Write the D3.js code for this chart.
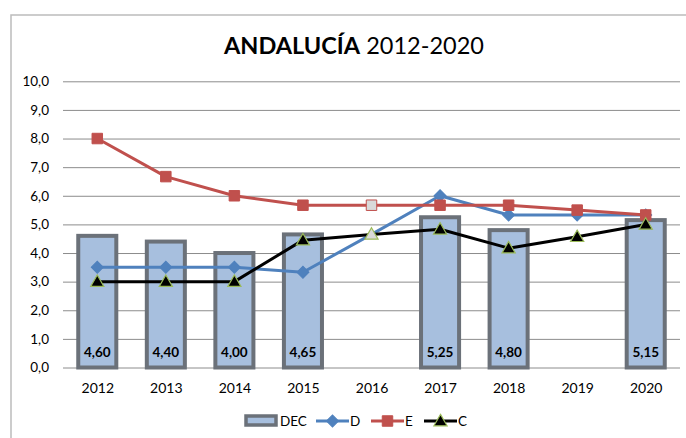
<!DOCTYPE html>
<html>
<head>
<meta charset="utf-8">
<script src="https://cdn.jsdelivr.net/npm/d3@7"></script>
<style>
  body { margin: 0; background: #fff; }
  text { font-family: Lato, "Open Sans", sans-serif; fill: #000; }
</style>
</head>
<body>
<div id="chart"></div>
<script>
const width = 686;
const height = 438;

const years = ['2012', '2013', '2014', '2015', '2016', '2017', '2018', '2019', '2020'];
const dec = [4.60, 4.40, 4.00, 4.65, null, 5.25, 4.80, null, 5.15];
const serD = [3.5, 3.5, 3.5, 3.33, 4.65, 6.0, 5.33, 5.33, 5.33];
const serE = [8.0, 6.67, 6.0, 5.67, 5.67, 5.67, 5.67, 5.5, 5.33];
const serC = [3.0, 3.0, 3.0, 4.45, 4.65, 4.83, 4.17, 4.57, 5.0];
const yTicks = [0, 1, 2, 3, 4, 5, 6, 7, 8, 9, 10];
const greyYears = ['2016'];

const svg = d3.select('#chart')
    .append('svg')
    .attr('width', width)
    .attr('height', height);

// outer frame (only left/top visible in the crop)
svg.append('rect')
    .attr('x', 11).attr('y', 15)
    .attr('width', 720).attr('height', 460)
    .attr('fill', 'none')
    .attr('stroke', '#bcbcbc')
    .attr('stroke-width', 1.5);

const x = d3.scalePoint().domain(years).range([63, 680]).padding(0.5);
const y = d3.scaleLinear().domain([0, 10]).range([367.5, 81.3]);
const step = x.step();
const barW = step * 0.555;

// title
const title = svg.append('text')
    .attr('x', 354).attr('y', 54)
    .attr('text-anchor', 'middle')
    .style('font-size', '23.5px');
title.append('tspan').style('font-weight', 'bold').text('ANDALUCÍA');
title.append('tspan').text(' 2012-2020');

// grid + y axis
const yAxis = d3.axisLeft(y)
    .tickValues(yTicks)
    .tickSize(-(680 - 63))
    .tickPadding(14)
    .tickFormat(d => d3.format('.1f')(d).replace('.', ','));

svg.append('g')
    .attr('transform', 'translate(63,0)')
    .call(yAxis)
    .call(g => g.select('.domain').remove())
    .call(g => g.selectAll('line').attr('stroke', '#8c8c8c').attr('stroke-width', 1))
    .call(g => g.selectAll('text').style('font-size', '13.5px').style('font-family', 'Lato'));

// x axis labels
const xAxis = d3.axisBottom(x).tickSize(0).tickPadding(16);
svg.append('g')
    .attr('transform', 'translate(0,' + y(0) + ')')
    .call(xAxis)
    .call(g => g.select('.domain').remove())
    .call(g => g.selectAll('text').style('font-size', '14px').style('font-family', 'Lato'));

// bars
const barData = years.map((yr, i) => ({ year: yr, v: dec[i] })).filter(d => d.v != null);

svg.append('g')
    .selectAll('rect')
    .data(barData)
    .enter()
    .append('rect')
    .attr('x', d => x(d.year) - barW / 2)
    .attr('y', d => y(d.v))
    .attr('width', barW)
    .attr('height', d => y(0) - y(d.v))
    .attr('fill', '#a7bfde')
    .attr('stroke', '#6b7179')
    .attr('stroke-width', 4);

svg.append('g')
    .selectAll('text')
    .data(barData)
    .enter()
    .append('text')
    .attr('x', d => x(d.year))
    .attr('y', 357)
    .attr('text-anchor', 'middle')
    .style('font-size', '13.5px')
    .style('font-weight', 'bold')
    .text(d => d3.format('.2f')(d.v).replace('.', ','));

// line series
const series = [
    { name: 'D', values: serD, color: '#4f81bd', shape: d3.symbolSquare, rot: 45, size: 72 },
    { name: 'E', values: serE, color: '#c0504d', shape: d3.symbolSquare, rot: 0, size: 110 },
    { name: 'C', values: serC, color: '#000000', shape: d3.symbolTriangle, rot: 0, size: 75 }
];

const line = d3.line()
    .x(d => x(d.year))
    .y(d => y(d.v));

function markerAttrs(sel, s, grey) {
    if (s.name === 'C') {
        sel.attr('fill', grey ? '#d9d9d9' : '#000')
            .attr('stroke', '#9bbb59').attr('stroke-width', 1.2);
    } else if (s.name === 'E') {
        sel.attr('fill', grey ? '#d9d9d9' : s.color)
            .attr('stroke', s.color).attr('stroke-width', 1);
    } else {
        sel.attr('fill', s.color).attr('stroke', s.color).attr('stroke-width', 1);
    }
}

series.forEach(s => {
    const pts = years.map((yr, i) => ({ year: yr, v: s.values[i] }));
    const g = svg.append('g');
    g.append('path')
        .datum(pts)
        .attr('d', line)
        .attr('fill', 'none')
        .attr('stroke', s.color)
        .attr('stroke-width', 3)
        .attr('stroke-linejoin', 'round');
    pts.forEach(p => {
        const grey = greyYears.includes(p.year);
        if (s.name === 'D' && grey) return;
        const m = g.append('path')
            .attr('d', d3.symbol().type(s.shape).size(s.size)())
            .attr('transform', 'translate(' + x(p.year) + ',' + (y(p.v) + (s.name === 'C' ? 1 : 0)) + ') rotate(' + s.rot + ')');
        markerAttrs(m, s, grey);
    });
});

// legend
const legend = svg.append('g').attr('transform', 'translate(0,421)');
legend.append('rect')
    .attr('x', 246).attr('y', -5)
    .attr('width', 30).attr('height', 9)
    .attr('fill', '#a7bfde')
    .attr('stroke', '#6b7179')
    .attr('stroke-width', 3.5);
legend.append('text').attr('x', 280).attr('y', 5).style('font-size', '13.5px').text('DEC');

const legendItems = [
    { s: series[0], x0: 316, tx: 350 },
    { s: series[1], x0: 371, tx: 405 },
    { s: series[2], x0: 424, tx: 458 }
];
legendItems.forEach(it => {
    legend.append('line')
        .attr('x1', it.x0).attr('x2', it.x0 + 33)
        .attr('y1', 0).attr('y2', 0)
        .attr('stroke', it.s.color)
        .attr('stroke-width', 3);
    const m = legend.append('path')
        .attr('d', d3.symbol().type(it.s.shape).size(it.s.size)())
        .attr('transform', 'translate(' + (it.x0 + 16.5) + ',' + (it.s.name === 'C' ? 1 : 0) + ') rotate(' + it.s.rot + ')');
    markerAttrs(m, it.s, false);
    legend.append('text').attr('x', it.tx).attr('y', 5).style('font-size', '13.5px').text(it.s.name);
});
</script>
</body>
</html>
